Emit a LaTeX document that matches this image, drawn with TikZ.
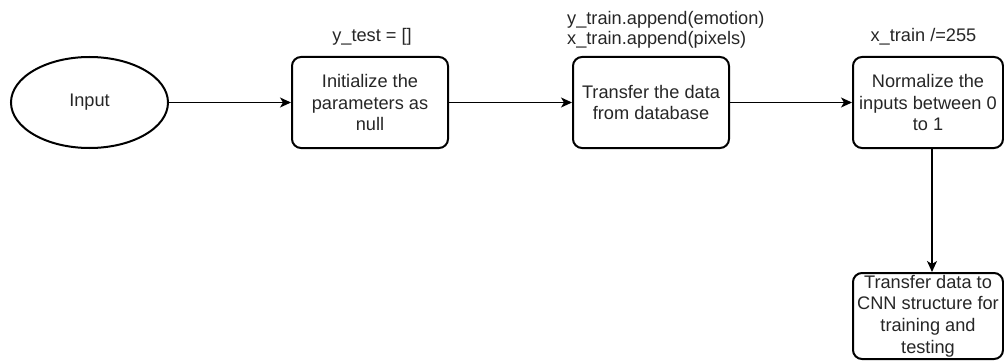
\documentclass[tikz,border=0pt]{standalone}
\usepackage{fontspec}
\setmainfont{Liberation Sans}
\usetikzlibrary{arrows.meta,shapes.geometric}
\begin{document}
\begin{tikzpicture}[x=1pt,y=-1pt,
  txt/.style={font=\fontsize{18.2}{21.8}\selectfont, text=black!85},
  stepbox/.style={txt, draw, line width=2pt, rounded corners=9pt, align=center,
    inner sep=0pt, minimum width=156pt, minimum height=91pt},
  startnode/.style={txt, draw, ellipse, line width=2pt, inner sep=0pt,
    minimum width=157pt, minimum height=91pt},
  note/.style={txt, inner sep=0pt},
  flow/.style={line width=1.4pt, -{Stealth[length=11pt,width=10pt,inset=3pt]}}
]
\useasboundingbox (0,0) rectangle (1004,361);

\node[startnode] (input) at (89.5,102.5) {Input};
\node[stepbox] (init) at (370,102.5) {Initialize the\\parameters as\\null};
\node[stepbox] (xfer) at (651,102.5) {Transfer the data\\from database};
\node[stepbox, minimum width=150pt] (norm) at (928,102.5) {Normalize the\\inputs between 0\\to 1};
\node[stepbox, minimum width=150pt, minimum height=86pt] (cnn) at (928,316) {Transfer data to\\CNN structure for\\training and\\testing};

\node[note] (ltest) at (372,37) {y\_test = []};
\node[note, align=left, anchor=west, font=\fontsize{18.2}{19.6}\selectfont] (ltrain) at (567,29.7)
  {y\_train.append(emotion)\\x\_train.append(pixels)};
\node[note] (lnorm) at (923.5,37) {x\_train /=255};

\draw[flow] (input) -- (init);
\draw[flow] (init) -- (xfer);
\draw[flow] (xfer) -- (norm);
\draw[flow] ([xshift=4pt]norm.south) -- ([xshift=4pt]cnn.north);
\end{tikzpicture}
\end{document}
